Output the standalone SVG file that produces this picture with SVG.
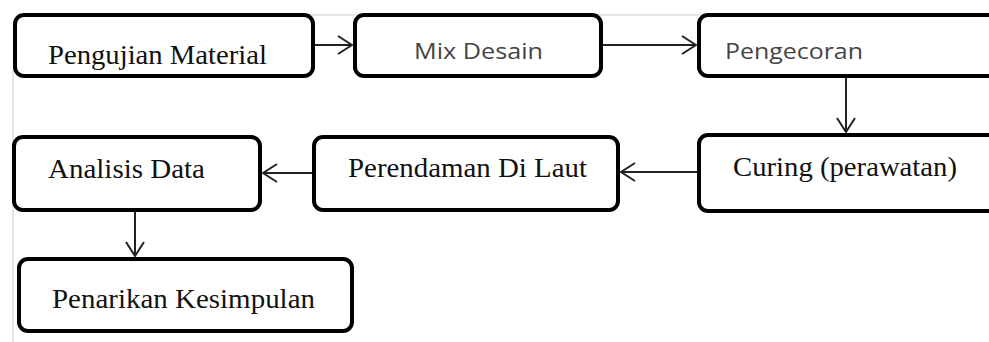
<svg xmlns="http://www.w3.org/2000/svg" width="989" height="342" viewBox="0 0 989 342">
  <defs>
    <style>
      .box { fill: #ffffff; stroke: #000000; stroke-width: 4; }
      .guide { stroke: #e6e6e6; stroke-width: 2; fill: none; }
      .edge { stroke: #222222; stroke-width: 2; fill: none; }
      .serif { font-family: "Liberation Serif", "DejaVu Serif", serif; font-size: 27px; fill: #111111; }
      .sans { font-family: "Open Sans", "Liberation Sans", sans-serif; font-size: 21px; fill: #444444; }
    </style>
    <marker id="open" viewBox="0 0 16 20" refX="15" refY="10" markerWidth="16" markerHeight="20" markerUnits="userSpaceOnUse" orient="auto">
      <path d="M1,1 L15,10 L1,19" fill="none" stroke="#222222" stroke-width="2"/>
    </marker>
  </defs>

  <rect width="989" height="342" fill="#ffffff"/>

  <!-- faint page guides -->
  <line class="guide" x1="300" y1="15" x2="989" y2="15"/>
  <line class="guide" x1="13" y1="70" x2="13" y2="342"/>

  <!-- connectors -->
  <g id="connectors">
    <line class="edge" x1="315" y1="45" x2="352" y2="45" marker-end="url(#open)"/>
    <line class="edge" x1="603" y1="45" x2="696" y2="45" marker-end="url(#open)"/>
    <line class="edge" x1="846" y1="78" x2="846" y2="132" marker-end="url(#open)"/>
    <line class="edge" x1="697" y1="172" x2="621" y2="172" marker-end="url(#open)"/>
    <line class="edge" x1="313" y1="173" x2="263" y2="173" marker-end="url(#open)"/>
    <line class="edge" x1="135" y1="212" x2="135" y2="256" marker-end="url(#open)"/>
  </g>

  <g id="pengujian-material">
    <rect class="box" x="15" y="15" width="298" height="61" rx="9"/>
    <text class="serif" x="48" y="64" textLength="219" lengthAdjust="spacingAndGlyphs">Pengujian Material</text>
  </g>

  <g id="mix-desain">
    <rect class="box" x="355" y="15" width="246" height="61" rx="9"/>
    <text class="sans" x="414" y="59" textLength="129" lengthAdjust="spacingAndGlyphs">Mix Desain</text>
  </g>

  <g id="pengecoran">
    <rect class="box" x="699" y="15" width="300" height="61" rx="9"/>
    <text class="sans" x="725" y="59" textLength="138" lengthAdjust="spacingAndGlyphs">Pengecoran</text>
  </g>

  <g id="curing">
    <rect class="box" x="699" y="135" width="300" height="76" rx="9"/>
    <text class="serif" x="733" y="176" textLength="224" lengthAdjust="spacingAndGlyphs">Curing (perawatan)</text>
  </g>

  <g id="perendaman">
    <rect class="box" x="314" y="137" width="304" height="73" rx="9"/>
    <text class="serif" x="348" y="177" textLength="239" lengthAdjust="spacingAndGlyphs">Perendaman Di Laut</text>
  </g>

  <g id="analisis-data">
    <rect class="box" x="14" y="137" width="246" height="73" rx="9"/>
    <text class="serif" x="48" y="178" textLength="157" lengthAdjust="spacingAndGlyphs">Analisis Data</text>
  </g>

  <g id="penarikan-kesimpulan">
    <rect class="box" x="19" y="259" width="333" height="72" rx="9"/>
    <text class="serif" x="52" y="308" textLength="263" lengthAdjust="spacingAndGlyphs">Penarikan Kesimpulan</text>
  </g>
</svg>
